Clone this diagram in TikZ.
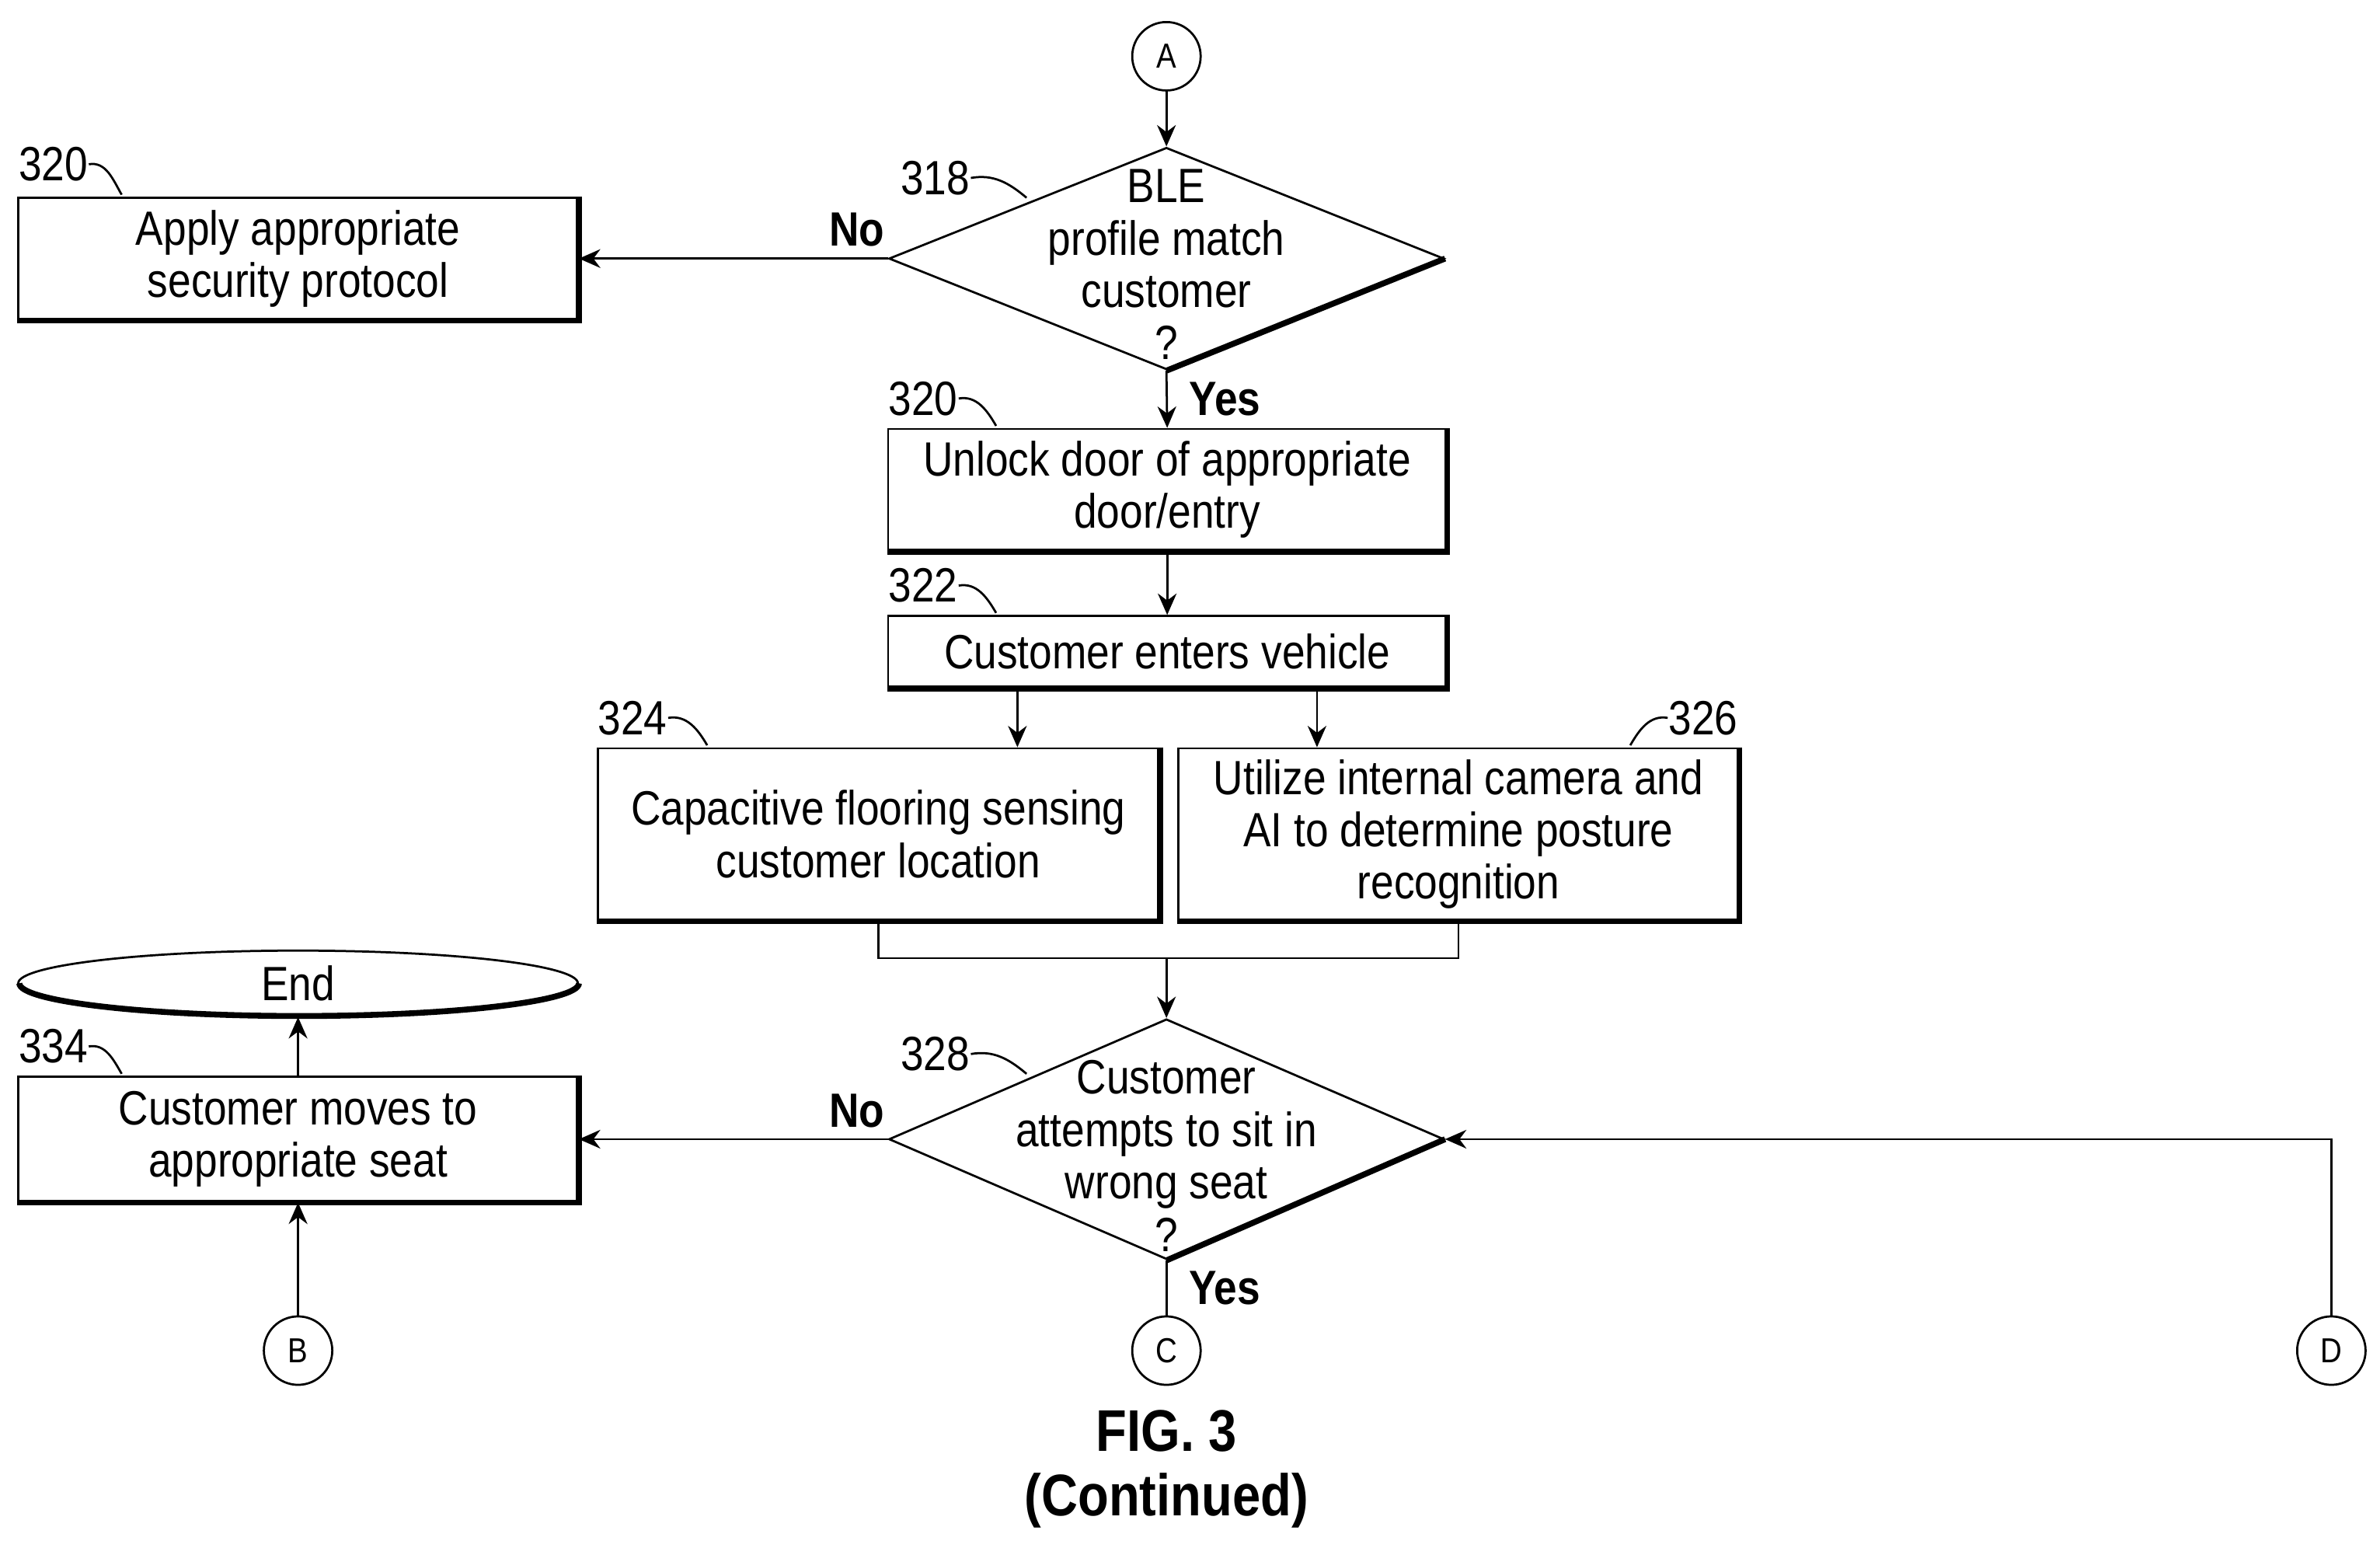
\documentclass[tikz,border=0pt]{standalone}
\usepackage{fontspec}
\setmainfont{Liberation Sans}[FakeStretch=0.86]
\usetikzlibrary{shapes.geometric,arrows.meta}
\tikzset{
  box/.style={draw, thin, align=center, inner sep=1pt,
    font=\fontsize{9}{9.8}\selectfont},
  dia/.style={draw, thin, diamond, inner sep=0pt},
  circ/.style={draw, thin, circle, minimum size=0.45cm, inner sep=0pt,
    font=\fontsize{6.5}{7}\selectfont},
  txt/.style={align=center, font=\fontsize{9}{9.8}\selectfont},
  ref/.style={font=\fontsize{9}{9.8}\selectfont, inner sep=0pt},
  yn/.style={font=\bfseries\fontsize{9}{9.8}\selectfont, inner sep=0pt},
  arr/.style={-{Stealth[length=4pt,width=3.5pt]}, thin},
  tick/.style={thin},
}
\newcommand{\thickedge}[1]{\draw[line width=1.1pt] (#1.north east) -- (#1.south east) -- (#1.south west);}
\newcommand{\diaedge}[1]{\draw[line width=1.1pt] (#1.east) -- (#1.south);}
\begin{document}
\begin{tikzpicture}
  \useasboundingbox (0,0) rectangle (15.65,-10.13);
  % connectors A
  \node[circ] (a) at (7.67,-0.37) {A};
  \node[dia, minimum width=3.65cm, minimum height=1.46cm] (d318) at (7.67,-1.70) {};
  \diaedge{d318}
  \node[txt] at (7.67,-1.74) {BLE\\profile match\\customer\\?};
  \node[box, minimum width=3.68cm, minimum height=0.8cm] (b320l) at (1.96,-1.70) {Apply appropriate\\security protocol};
  \thickedge{b320l}
  \node[box, minimum width=3.67cm, minimum height=0.8cm] (b320) at (7.675,-3.22) {Unlock door of appropriate\\door/entry};
  \thickedge{b320}
  \node[box, minimum width=3.67cm, minimum height=0.47cm] (b322) at (7.675,-4.285) {Customer enters vehicle};
  \thickedge{b322}
  \node[box, minimum width=3.69cm, minimum height=1.13cm] (b324) at (5.775,-5.485) {Capacitive flooring sensing\\customer location};
  \thickedge{b324}
  \node[box, minimum width=3.68cm, minimum height=1.13cm] (b326) at (9.59,-5.485) {Utilize internal camera and\\AI to determine posture\\recognition};
  \thickedge{b326}
  \node[dia, minimum width=3.65cm, minimum height=1.58cm] (d328) at (7.67,-7.49) {};
  \diaedge{d328}
  \node[txt] at (7.67,-7.60) {Customer\\attempts to sit in\\wrong seat\\?};
  \node[box, minimum width=3.68cm, minimum height=0.82cm] (b334) at (1.96,-7.49) {Customer moves to\\appropriate seat};
  \thickedge{b334}
  \node[box, ellipse, minimum width=3.68cm, minimum height=0.43cm, inner sep=0pt] (end) at (1.96,-6.465) {End};
  \draw[line width=1.1pt] (end.east) arc[start angle=0, end angle=-180, x radius=1.84cm, y radius=0.215cm];
  \node[circ] (b) at (1.96,-8.88) {B};
  \node[circ] (c) at (7.67,-8.88) {C};
  \node[circ] (d) at (15.33,-8.88) {D};
  % arrows
  \draw[arr] (a) -- (d318.north);
  \draw[arr] (d318.west) -- (b320l.east) node[yn, pos=0.1, above=2pt] {No};
  \draw[arr] (d318.south) -- (b320.north) node[yn, midway, right=4pt] {Yes};
  \draw[arr] (b320) -- (b322);
  \draw[arr] (b322.south -| 6.69,0) -- (b324.north -| 6.69,0);
  \draw[arr] (b322.south -| 8.66,0) -- (b326.north -| 8.66,0);
  \coordinate (m) at (7.67,-6.30);
  \draw (b324.south) |- (m) -| (b326.south);
  \draw[arr] (m) -- (d328.north);
  \draw[arr] (d328.west) -- (b334.east) node[yn, pos=0.1, above=2pt] {No};
  \draw (d328.south) -- (c.north) node[yn, midway, right=4pt] {Yes};
  \draw[arr] (b334) -- (end);
  \draw[arr] (b) -- (b334);
  \draw[arr] (d) |- (d328.east);
  % reference numerals
  \node[ref] (r320l) at (0.35,-1.08) {320};
  \draw[tick] (r320l.east) to[out=10, in=120] (0.80,-1.28);
  \node[ref] (r318) at (6.15,-1.17) {318};
  \draw[tick] (r318.east) to[out=10, in=140] (6.75,-1.30);
  \node[ref] (r320) at (6.07,-2.62) {320};
  \draw[tick] (r320.east) to[out=10, in=120] (6.55,-2.80);
  \node[ref] (r322) at (6.07,-3.85) {322};
  \draw[tick] (r322.east) to[out=10, in=120] (6.55,-4.03);
  \node[ref] (r324) at (4.16,-4.72) {324};
  \draw[tick] (r324.east) to[out=10, in=120] (4.65,-4.90);
  \node[ref] (r326) at (11.20,-4.72) {326};
  \draw[tick] (r326.west) to[out=170, in=60] (10.72,-4.90);
  \node[ref] (r328) at (6.15,-6.93) {328};
  \draw[tick] (r328.east) to[out=10, in=140] (6.75,-7.06);
  \node[ref] (r334) at (0.35,-6.88) {334};
  \draw[tick] (r334.east) to[out=10, in=120] (0.80,-7.06);
  % caption
  \node[font=\bfseries\fontsize{11}{12}\selectfont, align=center] (fig) at (7.67,-9.66) {FIG. 3\\(Continued)};
\end{tikzpicture}
\end{document}
